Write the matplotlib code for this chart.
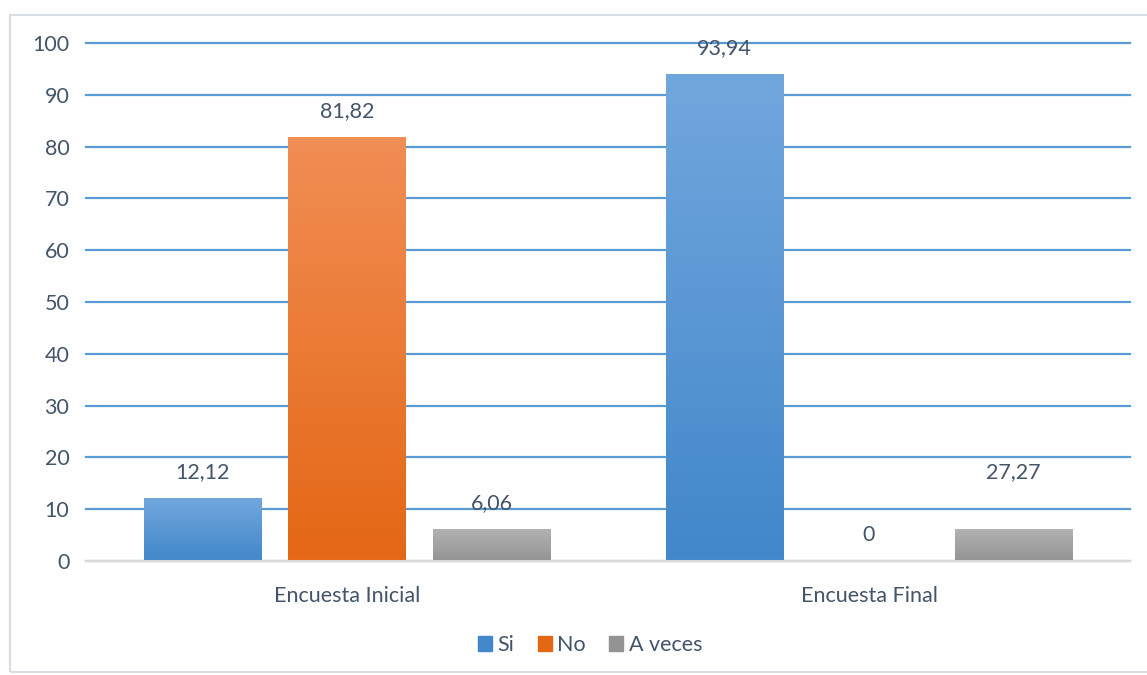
import numpy as np
import matplotlib.pyplot as plt
import matplotlib.patches as mpatches
from matplotlib.colors import LinearSegmentedColormap

plt.rcParams['font.family'] = ['Lato', 'DejaVu Sans']

categories = ['Encuesta Inicial', 'Encuesta Final']
series = ['Si', 'No', 'A veces']
values = [[12.12, 93.94], [81.82, 0], [6.06, 6.06]]
label_text = [['12,12', '93,94'], ['81,82', '0'], ['6,06', '27,27']]
label_at = [[12.12, 93.94], [81.82, 0], [6.06, 12.12]]
yticks = [0, 10, 20, 30, 40, 50, 60, 70, 80, 90, 100]

# gradient (top colour, bottom colour) per series
grads = [('#72a7dd', '#4187ca'), ('#f18e55', '#e46714'), ('#b2b2b2', '#939393')]
txt = '#44546a'
fs = 15.5

fig = plt.figure(figsize=(11.47, 6.75), dpi=100)
ax = fig.add_axes([86/1147, 1 - 561/675, 1044/1147, 518/675])

# outer frame
fig.patches.append(mpatches.Rectangle((10/1147, 3/675), 1.0, 657/675, transform=fig.transFigure,
                                      fill=False, edgecolor='#d9dee6', linewidth=1.5))

width = 0.2256
step = 0.277
x = np.arange(len(categories))
grad = np.linspace(1, 0, 256).reshape(-1, 1)

for i, s in enumerate(series):
    cmap = LinearSegmentedColormap.from_list(s, [grads[i][1], grads[i][0]])
    xs = x + (i - 1) * step
    bars = ax.bar(xs, values[i], width, color='none', edgecolor='none', zorder=3)
    for b in bars:
        h = b.get_height()
        if h <= 0:
            continue
        x0 = b.get_x()
        ax.imshow(grad, cmap=cmap, aspect='auto', extent=[x0, x0 + width, 0, h],
                  zorder=3, vmin=0, vmax=1)
    for j in range(len(categories)):
        ax.annotate(label_text[i][j], (xs[j], label_at[i][j]), xytext=(0, 19),
                    textcoords='offset points', ha='center', va='center',
                    fontsize=fs, color=txt, zorder=4)

ax.set_xlim(-0.5, 1.5)
ax.set_ylim(0, 100)
ax.set_yticks(yticks)
ax.set_yticklabels([str(t) for t in yticks], fontsize=fs, color=txt)
ax.set_xticks(x)
ax.set_xticklabels(categories, fontsize=fs, color=txt)
ax.tick_params(length=0, pad=12)
ax.tick_params(axis='x', pad=18)
ax.grid(axis='y', color='#5b9bd5', linewidth=1.6, zorder=0)
for gl in ax.get_ygridlines():
    gl.set_clip_on(False)
for sp in ['top', 'right', 'left']:
    ax.spines[sp].set_visible(False)
ax.spines['bottom'].set_color('#d9d9d9')
ax.spines['bottom'].set_linewidth(1.5)
ax.spines['bottom'].set_zorder(3.5)

handles = [mpatches.Patch(color=grads[i][1], label=s) for i, s in enumerate(series)]
fig.legend(handles=handles, loc='center', bbox_to_anchor=(590/1147, 1 - 645/675), ncol=3,
           frameon=False, fontsize=fs, labelcolor=txt, handlelength=0.65, handleheight=0.65,
           handletextpad=0.25, columnspacing=1.1)

fig.savefig('out.png', dpi=100)
